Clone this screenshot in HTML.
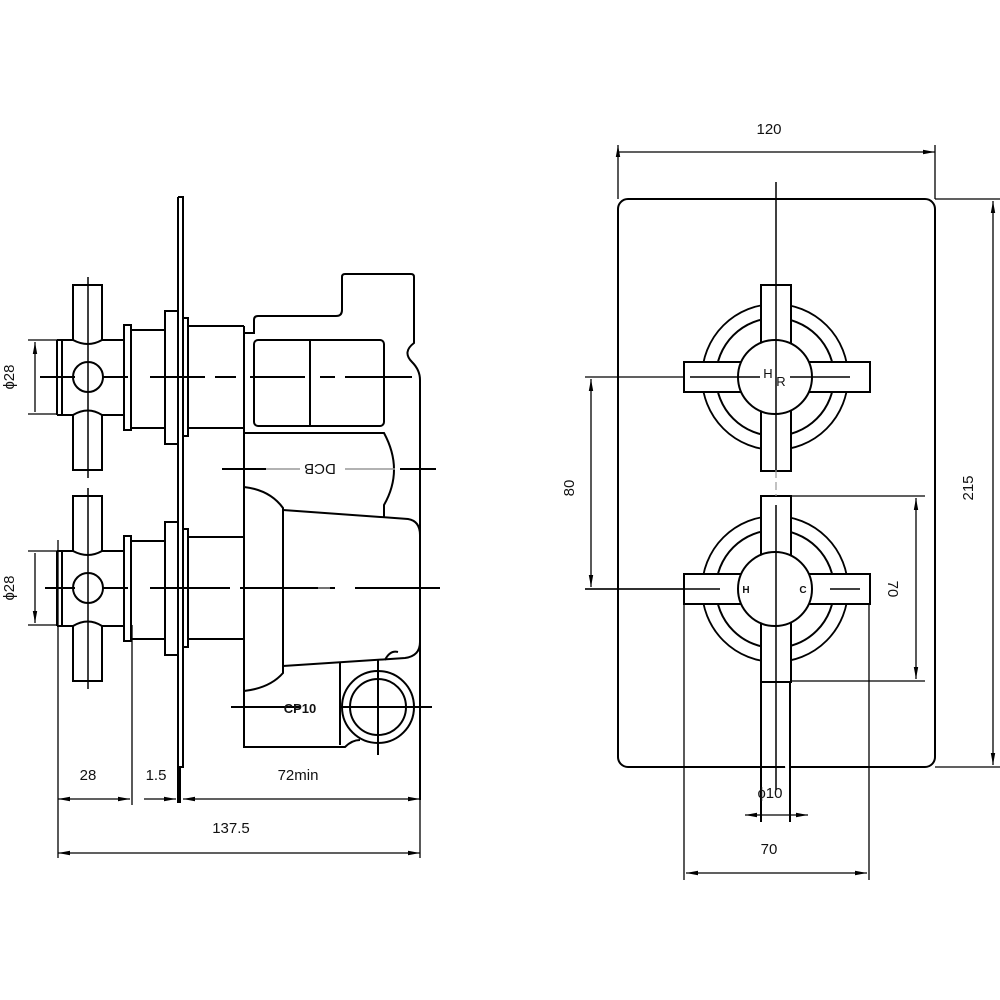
<!DOCTYPE html>
<html><head><meta charset="utf-8"><style>
html,body{margin:0;padding:0;background:#fff}
svg{display:block}
text{font-family:"Liberation Sans",sans-serif;fill:#111}
</style></head><body>
<svg width="1000" height="1000" viewBox="0 0 1000 1000" xmlns="http://www.w3.org/2000/svg">
<defs>
<marker id="a" viewBox="0 0 12 6" refX="12" refY="3" markerWidth="12" markerHeight="6" orient="auto-start-reverse" markerUnits="userSpaceOnUse"><path d="M0,0.8 L12,3 L0,5.2z" fill="#000"/></marker>
<g id="hd" fill="none" stroke="#000" stroke-width="2">
  <path d="M73,340 V285 H102 V340 M73,414 V470 H102 V414"/>
  <path d="M57,340 H73 Q88,348 102,340 H124 M57,415 H73 Q88,406 102,415 H124 M57,340 V415 M62,340 V415"/>
  <circle cx="88" cy="377" r="15"/>
  <rect x="124" y="325" width="7" height="105"/>
  <rect x="131" y="330" width="34" height="98"/>
  <rect x="165" y="311" width="13" height="133"/>
  <rect x="183" y="318" width="5" height="118"/>
  <path d="M188,326 H244 M188,428 H244"/>
  <path d="M88,277 V478" stroke-width="1.5"/>
</g>
</defs>
<g fill="none" stroke="#000" stroke-width="2">
<!-- left view -->
<use href="#hd"/>
<use href="#hd" transform="translate(0,211)"/>
<path d="M178,197 H183 V767 H180 V803 M178,197 V803"/>
<path d="M244,326 V747 H345 Q352,740 360,740"/>
<path d="M244,333 H254 V320 Q254,316 258,316 H336 Q342,316 342,310 V277 Q342,274 345,274 H411 Q414,274 414,277 V343 Q402,352 412,362 Q420,370 420,380 V800"/>
<rect x="254" y="340" width="130" height="86" rx="4"/>
<path d="M310,340 V426"/>
<path d="M244,433 H384 Q404,470 384,505 V517"/>
<path d="M244,487 Q270,490 283,508 V673 Q270,688 244,691"/>
<path d="M283,510 L408,519 Q420,521 420,535 V642 Q420,656 405,658 L283,666"/>
<path d="M340,663 V745"/>
<circle cx="378" cy="707" r="36"/><circle cx="378" cy="707" r="28"/>
<path d="M385,660 Q390,650 398,652" />
<!-- center lines left -->
<g stroke-width="2">
<path d="M40,377 H75 M102,377 H128 M150,377 H205 M215,377 H236 M250,377 H305 M320,377 H335 M345,377 H412"/>
<path d="M45,588 H75 M102,588 H128 M150,588 H230 M240,588 H335 M355,588 H440"/>
<path d="M222,469 H266 M400,469 H436"/>
<path d="M231,707 H300 M340,707 H432 M378,660 V755"/>
</g>
<path d="M266,469 H300 M345,469 H395 M318,588 H330" stroke="#999" stroke-width="1.5"/>
<!-- dims left -->
<g stroke-width="1.3">
<path d="M28,340 H58 M28,414 H58 M28,551 H58 M28,625 H58"/>
<path d="M35,342 V412 M35,553 V623" marker-start="url(#a)" marker-end="url(#a)"/>
<path d="M58,540 V858 M132,625 V805 M420,760 V858"/>
<path d="M58,799 H130" marker-start="url(#a)" marker-end="url(#a)"/>
<path d="M144,799 H176" marker-end="url(#a)"/>
<path d="M183,799 H420" marker-start="url(#a)" marker-end="url(#a)"/>
<path d="M58,853 H420" marker-start="url(#a)" marker-end="url(#a)"/>
</g>
<!-- right view -->
<rect x="618" y="199" width="317" height="568" rx="10"/>
<g stroke-width="1.3">
<path d="M618,145 V199 M935,145 V199 M618,152 H935" marker-start="url(#a)" marker-end="url(#a)"/>
<path d="M935,199 H1000 M935,767 H1000"/>
<path d="M993,201 V765" marker-start="url(#a)" marker-end="url(#a)"/>
<path d="M585,377 H760 M585,589 H750"/>
<path d="M591,379 V587" marker-start="url(#a)" marker-end="url(#a)"/>
<path d="M790,496 H925 M761,681 H925"/>
<path d="M916,498 V679" marker-start="url(#a)" marker-end="url(#a)"/>
<path d="M684,574 V880 M869,589 V880"/>
<path d="M686,873 H867" marker-start="url(#a)" marker-end="url(#a)"/>
<path d="M745,815 H808" marker-start="url(#a)" marker-end="url(#a)"/>
</g>
<!-- upper handle -->
<circle cx="775" cy="377" r="73" stroke-width="1.8"/>
<circle cx="775" cy="377" r="59"/>
<rect x="761" y="285" width="30" height="186" fill="#fff"/>
<rect x="684" y="362" width="186" height="30" fill="#fff"/>
<circle cx="775" cy="377" r="37" fill="#fff"/>
<path d="M776,182 V470 M690,377 H760 M790,377 H850" stroke-width="1.5"/>
<!-- lower handle -->
<circle cx="775" cy="589" r="73" stroke-width="1.8"/>
<circle cx="775" cy="589" r="59"/>
<path d="M761,496 H790 V822 M761,496 V822" fill="#fff"/>
<rect x="761" y="496" width="30" height="186" fill="#fff"/>
<rect x="684" y="574" width="186" height="30" fill="#fff"/>
<path d="M761,682 V822 M790,682 V822"/>
<circle cx="775" cy="589" r="37" fill="#fff"/>
<path d="M776,505 V790 M585,589 H720 M830,589 H860" stroke-width="1.5"/>
<path d="M776,470 V496" stroke="#999" stroke-width="1.2" stroke-dasharray="8,4"/>
</g>
<g font-size="15">
<text x="88" y="780" text-anchor="middle">28</text>
<text x="156" y="780" text-anchor="middle">1.5</text>
<text x="298" y="780" text-anchor="middle">72min</text>
<text x="231" y="833" text-anchor="middle">137.5</text>
<text x="769" y="134" text-anchor="middle">120</text>
<text x="769" y="854" text-anchor="middle">70</text>
<text x="770" y="798" text-anchor="middle">ɸ10</text>
<text transform="translate(14,377) rotate(-90)" text-anchor="middle">ɸ28</text>
<text transform="translate(14,588) rotate(-90)" text-anchor="middle">ɸ28</text>
<text transform="translate(574,488) rotate(-90)" text-anchor="middle">80</text>
<text transform="translate(973,488) rotate(-90)" text-anchor="middle">215</text>
<text transform="translate(888,589) rotate(90)" text-anchor="middle">70</text>
<text transform="translate(320,464) scale(-1,-1)" text-anchor="middle">DCB</text>
<text x="300" y="713" text-anchor="middle" font-size="13" font-weight="bold">CP10</text>
<text x="768" y="378" text-anchor="middle" font-size="13">H</text>
<text x="781" y="386" text-anchor="middle" font-size="13">R</text>
<text x="746" y="593" text-anchor="middle" font-size="10" font-weight="bold">H</text>
<text x="803" y="593" text-anchor="middle" font-size="10" font-weight="bold">C</text>
</g>
</svg>
</body></html>
